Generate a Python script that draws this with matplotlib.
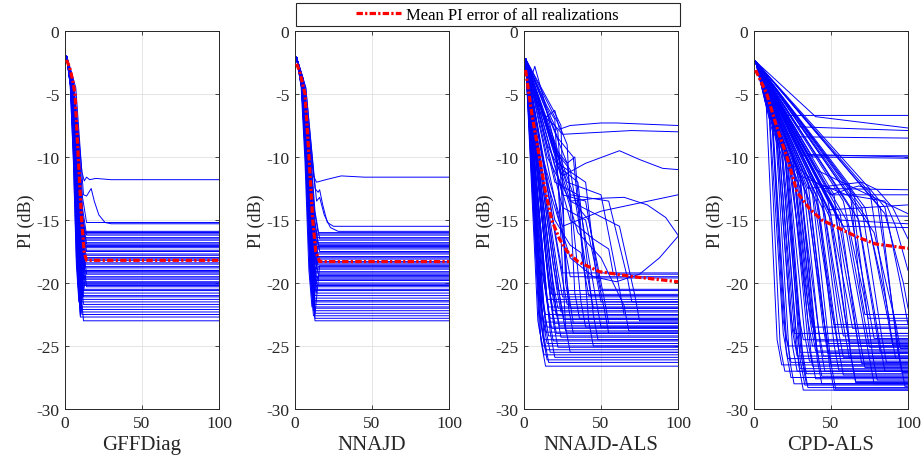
import numpy as np
import matplotlib
matplotlib.use("Agg")
import matplotlib.pyplot as plt
from matplotlib.lines import Line2D
from matplotlib.patches import Rectangle

plt.rcParams['font.family'] = ['Liberation Serif', 'DejaVu Serif']
plt.rcParams['axes.unicode_minus'] = False

# ---------------- GFFDiag ----------------
gff_final = [-15.2, -15.9, -16.0, -16.1, -16.2, -16.4, -16.5, -16.6, -16.8, -16.9,
             -17.0, -17.1, -17.2, -17.4, -17.5, -17.7, -17.8, -18.0, -18.1, -18.2,
             -18.4, -18.5, -18.7, -18.8, -19.0, -19.1, -19.2, -19.3, -19.5, -19.6,
             -19.7, -19.9, -20.0, -20.1, -20.2, -20.3, -20.5, -20.6, -20.8, -21.0,
             -21.1, -21.3, -21.5, -21.7, -21.9, -22.1, -22.3, -22.5, -22.7, -23.0]
gff_knee = [14, 12, 13, 11, 14, 12, 13, 10, 12, 14,
            11, 13, 12, 11, 14, 12, 13, 10, 12, 14,
            11, 13, 12, 10, 11, 13, 12, 14, 11, 10,
            12, 13, 11, 12, 10, 14, 11, 12, 10, 11,
            12, 10, 11, 12, 10, 11, 10, 11, 10, 12]
gff_reb_knee = [9, 10, 10, 11, 9, 10]
gff_reb_low = [-21.5, -22.0, -22.6, -21.2, -20.8, -21.8]
gff_reb_final = [-16.0, -17.0, -18.0, -19.0, -17.5, -20.0]
gff_odd_x = [[1, 6, 11, 12.5, 14, 16, 20, 30, 100],
             [1, 7, 12, 14, 17, 19, 22, 26, 30, 100]]
gff_odd_y = [[-2.0, -4.5, -11.2, -11.9, -11.6, -11.8, -11.7, -11.8, -11.8],
             [-2.0, -4.5, -13.0, -13.1, -12.5, -13.5, -14.6, -15.2, -15.3, -15.3]]
gff_mean_x = [1, 3, 5, 6.5, 8.6, 10.8, 12.5, 14, 100]
gff_mean_y = [-2.3, -2.9, -3.9, -5.0, -10.0, -15.0, -17.6, -18.2, -18.2]

# descent profile shared by the fast algorithms (fraction of time to knee, fraction of drop)
drop_t = [0.0, 0.3, 0.55, 0.8, 1.0]
drop_f = [0.0, 0.12, 0.42, 0.85, 1.0]

# ---------------- NNAJD ----------------
nn_final = [-16.0, -16.1, -16.2, -16.4, -16.5, -16.6, -16.8, -16.9, -17.0, -17.1,
            -17.2, -17.3, -17.5, -17.6, -17.7, -17.9, -18.0, -18.1, -18.3, -18.4,
            -18.5, -18.7, -18.8, -18.9, -19.1, -19.2, -19.3, -19.5, -19.6, -19.7,
            -19.8, -20.0, -20.1, -20.2, -20.3, -20.5, -20.6, -20.8, -21.0, -21.2,
            -21.4, -21.5, -21.7, -21.9, -22.0, -22.2, -22.4, -22.6, -22.8, -23.0]
nn_knee = [15, 13, 14, 12, 16, 13, 14, 12, 15, 13,
           14, 12, 16, 13, 14, 12, 15, 13, 14, 12,
           13, 15, 12, 14, 13, 12, 15, 13, 14, 12,
           13, 12, 14, 13, 12, 13, 12, 14, 13, 12,
           13, 12, 13, 12, 13, 12, 13, 12, 13, 13]
nn_reb_knee = [12, 13, 12, 11]
nn_reb_low = [-21.5, -22.5, -20.8, -21.9]
nn_reb_final = [-17.0, -18.6, -19.4, -20.2]
nn_odd_x = [[1, 6, 12, 14, 20, 30, 45, 100],
            [1, 7, 13, 15, 16, 18, 21, 25, 100],
            [1, 7, 14, 16, 19, 23, 28, 100]]
nn_odd_y = [[-2.1, -4.5, -11.5, -12.0, -11.8, -11.5, -11.6, -11.6],
            [-2.1, -4.5, -12.5, -12.8, -12.6, -13.8, -15.2, -15.5, -15.5],
            [-2.1, -4.5, -13.5, -13.2, -14.6, -15.6, -15.9, -15.9]]
nn_mean_x = [1, 3, 6.5, 9.1, 11.5, 13.5, 16, 100]
nn_mean_y = [-2.6, -3.2, -5.0, -10.0, -15.0, -17.5, -18.3, -18.3]

# ---------------- NNAJD-ALS ----------------
nals_final = [-20.6, -20.9, -21.1, -21.3, -21.5, -21.7, -21.9, -22.0, -22.2, -22.3,
              -22.5, -22.6, -22.8, -22.9, -23.1, -23.2, -23.4, -23.5, -23.6, -23.8,
              -23.9, -24.0, -24.2, -24.3, -24.5, -24.6, -24.8, -25.0, -25.1, -25.3,
              -25.5, -25.7, -25.9, -26.1, -26.3, -26.6, -19.2, -19.5]
nals_knee = [22, 18, 25, 15, 20, 28, 16, 22, 19, 24,
             14, 21, 17, 26, 13, 20, 23, 15, 18, 27,
             14, 21, 16, 24, 13, 19, 15, 12, 22, 14,
             17, 13, 20, 15, 16, 14, 25, 30]
nals_t1 = [22, 20, 25, 22, 25, 28, 30, 30, 18, 20, 25, 30, 20, 28, 24, 18, 20, 15, 35, 35]
nals_v1 = [-8.5, -9.5, -11.0, -10.5, -13.0, -12.0, -13.0, -13.5, -9.0, -12.0,
           -14.0, -15.0, -15.0, -10.5, -7.8, -7.0, -6.5, -6.0, -16.0, -14.0]
nals_t2 = [32, 30, 35, 40, 40, 50, 55, 62, 28, 35, 40, 45, 30, 33, 28, 22, 24, 20, 50, 42]
nals_v2 = [-10.0, -11.0, -12.0, -12.0, -13.5, -13.0, -13.5, -15.5, -10.5, -13.0,
           -15.0, -16.5, -17.0, -10.0, -9.0, -8.0, -7.5, -7.0, -18.0, -15.0]
nals_t3 = [42, 45, 48, 50, 50, 65, 70, 75, 40, 50, 55, 58, 40, 45, 36, 32, 30, 30, 68, 55]
nals_f3 = [-21.0, -22.0, -24.5, -21.5, -20.5, -22.5, -21.5, -23.0, -23.5, -23.5,
           -24.0, -19.3, -19.6, -25.0, -22.8, -24.0, -22.0, -25.5, -23.8, -23.2]
nals_odd_x = [[1, 5, 10, 15, 20, 23, 30, 50, 60, 80, 100],
              [1, 8, 15, 20, 25, 40, 70, 100],
              [1, 15, 25, 40, 62, 75, 90, 100],
              [1, 12, 25, 50, 100],
              [1, 15, 30, 45, 65, 80, 92, 100],
              [1, 15, 30, 45, 60, 75, 88, 100],
              [1, 4, 7, 12, 20, 28, 32, 100]]
nals_odd_y = [[-2.2, -4.8, -6.5, -6.8, -6.3, -7.8, -7.5, -7.3, -7.3, -7.4, -7.5],
              [-2.2, -5.5, -7.0, -7.5, -8.2, -8.1, -7.9, -8.0],
              [-2.2, -9.0, -11.5, -10.5, -9.5, -10.2, -10.9, -11.0],
              [-2.2, -10.0, -15.5, -14.3, -13.0],
              [-2.2, -10.0, -13.5, -13.3, -13.2, -13.8, -14.8, -16.2],
              [-2.2, -12.0, -18.0, -19.5, -19.9, -19.3, -18.0, -16.3],
              [-2.2, -4.0, -2.8, -5.0, -9.0, -20.0, -23.2, -23.2]]
nals_mean_x = [1, 5, 10, 14, 18, 23, 28, 35, 49, 71, 100]
nals_mean_y = [-3.1, -6.5, -10.0, -12.8, -15.0, -16.5, -17.5, -18.3, -19.1, -19.5, -19.9]

# ---------------- CPD-ALS ----------------
cpd_tk = [8, 10, 10, 12, 12, 14, 15, 15, 16, 18, 18, 20, 20, 22, 22, 24, 25, 26, 28, 28,
          30, 30, 32, 34, 35, 36, 38, 40, 42, 44, 46, 48, 50, 52, 55, 58, 60, 62, 65, 68,
          72, 75, 78, 80, 85, 62,
          12, 16, 20, 24, 26, 30, 34, 38, 40, 44, 48, 52, 56, 60, 64, 70, 74, 82, 18, 22]
cpd_vk = [-6, -7, -6.5, -7.5, -8, -8, -9, -8.5, -9, -9.5, -10, -10, -9, -10.5, -11, -11,
          -10, -11.5, -12, -11, -12, -12.5, -12, -13, -12, -13.5, -12.5, -13, -14, -13,
          -14.5, -13.5, -15, -14, -15, -13.5, -16, -14, -13, -15, -14, -12.5, -16, -13.5,
          -14.5, -12.2,
          -7, -8.5, -9.5, -10.5, -11, -11.5, -12.5, -13, -12, -13.5, -14, -13, -14.5, -15,
          -13.5, -14, -15, -14, -9, -10]
cpd_te = [18, 20, 22, 24, 22, 26, 28, 26, 30, 32, 30, 34, 32, 36, 35, 38, 38, 40, 42, 40,
          44, 45, 46, 48, 50, 52, 52, 55, 58, 58, 62, 64, 66, 68, 72, 74, 78, 78, 82, 85,
          88, 92, 95, 98, 100, 72,
          24, 28, 33, 38, 40, 44, 48, 53, 55, 58, 62, 66, 70, 75, 80, 86, 90, 96, 34, 40]
cpd_final = [-26.5, -27, -26, -27.5, -25, -28, -27, -24, -26.8, -28.5, -25.5, -27.2, -24.5,
             -26.2, -28.3, -25, -23.5, -27.6, -26, -24, -28, -25.8, -27, -24.8, -26.5,
             -28.5, -23.3, -25.3, -27.3, -24.2, -26, -23.6, -27.8, -25, -26.7, -22.8, -28,
             -24.4, -25.5, -27, -23, -26, -25.2, -28.2, -22, -22.5,
             -26.3, -25.8, -28.1, -26.6, -24.6, -27.4, -25.6, -28.4, -26.9, -25.9, -24.7,
             -27.9, -26.4, -25.1, -27.7, -26.3, -24.9, -27.1, -28.0, -25.4]
cpd_hi_tk = [22, 40, 28, 30, 35, 38, 32, 45, 50, 48, 50, 55, 58, 40]
cpd_hi_vk = [-6.7, -6.8, -7.6, -8.4, -9.8, -10.0, -9.9, -12.5, -13.0, -14.2, -14.6, -15.0, -15.5, -11.0]
cpd_hi_end = [-6.7, -7.7, -7.9, -8.5, -10.0, -10.1, -9.9, -12.6, -13.0, -13.8, -14.7, -15.3, -15.6, -14.5]
cpd_odd_x = [[1, 30, 60, 85, 92, 100],
             [1, 35, 70, 80, 90, 100],
             [1, 30, 50, 62, 68, 75, 85, 95, 100]]
cpd_odd_y = [[-2.4, -11.5, -13.0, -13.5, -15.5, -19.0],
             [-2.4, -12.5, -12.0, -12.6, -14.0, -16.5],
             [-2.4, -11.0, -13.0, -12.5, -12.3, -12.5, -14.0, -20.0, -23.3]]
cpd_mean_x = [1, 8.3, 15, 21.4, 28, 36, 44, 56, 68, 79, 100]
cpd_mean_y = [-3.1, -5.0, -7.7, -10.0, -12.8, -14.1, -15.0, -15.7, -16.4, -16.9, -17.25]

BLUE = (0, 0, 1)
LW = 0.7
MEAN_KW = dict(color='red', lw=2.3, dashes=(2.0, 0.7, 0.7, 0.7), zorder=5)
AXC = '0.15'


def style_axes(ax, label):
    ax.set_xlim(0, 100)
    ax.set_ylim(-30, 0)
    ax.set_xticks([0, 50, 100])
    ax.set_yticks(np.arange(-30, 1, 5))
    ax.grid(True, color='0.88', lw=0.6)
    ax.set_axisbelow(True)
    ax.tick_params(direction='in', top=True, right=True, labelsize=12.5,
                   colors=AXC, length=3, width=0.6, pad=4)
    for s in ax.spines.values():
        s.set_color(AXC)
        s.set_linewidth(0.7)
    ax.set_xlabel(label, fontsize=15, color=AXC, labelpad=3)
    ax.set_ylabel('PI (dB)', fontsize=13, color=AXC, labelpad=1)


def descent(knee, start, end):
    xs = [1 + (knee - 1) * t for t in drop_t]
    ys = [start + (end - start) * f for f in drop_f]
    return xs, ys


def fast_panel(ax, final, knee, start, reb_knee, reb_low, reb_final, odd_x, odd_y):
    for f, k in zip(final, knee, strict=True):
        xs, ys = descent(k, start, f)
        ax.plot(xs + [100], ys + [f], color=BLUE, lw=LW)
    for k, lo, f in zip(reb_knee, reb_low, reb_final, strict=True):
        xs, ys = descent(k, start, lo)
        ax.plot(xs + [k + 3, 100], ys + [f, f], color=BLUE, lw=LW)
    for xs, ys in zip(odd_x, odd_y, strict=True):
        ax.plot(xs, ys, color=BLUE, lw=LW)


fig = plt.figure(figsize=(9.24, 4.64), dpi=100)
W, H = 924, 464
lefts = [65, 295, 524, 754]
axes = [fig.add_axes([l / W, (H - 410) / H, 154 / W, 378 / H]) for l in lefts]

# GFFDiag
ax = axes[0]
fast_panel(ax, gff_final, gff_knee, -2.0, gff_reb_knee, gff_reb_low,
           gff_reb_final, gff_odd_x, gff_odd_y)
ax.plot(gff_mean_x, gff_mean_y, **MEAN_KW)
style_axes(ax, 'GFFDiag')

# NNAJD
ax = axes[1]
fast_panel(ax, nn_final, nn_knee, -2.1, nn_reb_knee, nn_reb_low,
           nn_reb_final, nn_odd_x, nn_odd_y)
ax.plot(nn_mean_x, nn_mean_y, **MEAN_KW)
style_axes(ax, 'NNAJD')

# NNAJD-ALS
ax = axes[2]
for f, k in zip(nals_final, nals_knee, strict=True):
    ax.plot([1, k - 3, k, 100], [-2.2, f + 2.0, f, f], color=BLUE, lw=LW)
for a, b, c, d, e, f in zip(nals_t1, nals_v1, nals_t2, nals_v2, nals_t3, nals_f3, strict=True):
    ax.plot([1, a, c, e - 3, e, 100], [-2.2, b, d, f + 2.0, f, f], color=BLUE, lw=LW)
for xs, ys in zip(nals_odd_x, nals_odd_y, strict=True):
    ax.plot(xs, ys, color=BLUE, lw=LW)
ax.plot(nals_mean_x, nals_mean_y, **MEAN_KW)
style_axes(ax, 'NNAJD-ALS')

# CPD-ALS
ax = axes[3]
for a, b, c, f in zip(cpd_tk, cpd_vk, cpd_te, cpd_final, strict=True):
    ax.plot([1, a, c - 3, c, 100], [-2.4, b, f + 2.0, f, f], color=BLUE, lw=LW)
for a, b, e in zip(cpd_hi_tk, cpd_hi_vk, cpd_hi_end, strict=True):
    ax.plot([1, a, 100], [-2.4, b, e], color=BLUE, lw=LW)
for xs, ys in zip(cpd_odd_x, cpd_odd_y, strict=True):
    ax.plot(xs, ys, color=BLUE, lw=LW)
ax.plot(cpd_mean_x, cpd_mean_y, **MEAN_KW)
style_axes(ax, 'CPD-ALS')

# legend box across the top
fig.patches.append(Rectangle((296 / W, 1 - 27 / H), 384 / W, 23 / H, transform=fig.transFigure,
                             fill=False, ec=AXC, lw=0.8))
handle = Line2D([], [], **MEAN_KW)
fig.legend([handle], ['Mean PI error of all realizations'], loc='center',
           bbox_to_anchor=(487 / W, 1 - 15.5 / H), frameon=False, fontsize=12,
           handlelength=2.7, handletextpad=0.3, borderpad=0)

fig.savefig('out.png', dpi=100)
